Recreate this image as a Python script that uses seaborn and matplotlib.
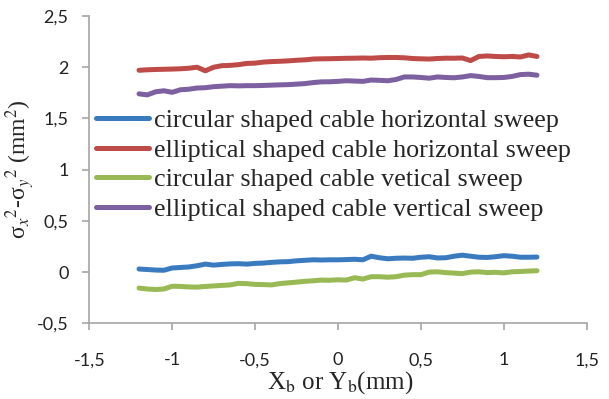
import numpy as np
import pandas as pd
import seaborn as sns
import matplotlib.pyplot as plt
from matplotlib.ticker import FuncFormatter

# beam position (mm)
x = [-1.2, -1.15, -1.1, -1.05, -1.0, -0.95, -0.9, -0.85, -0.8, -0.75,
     -0.7, -0.65, -0.6, -0.55, -0.5, -0.45, -0.4, -0.35, -0.3, -0.25,
     -0.2, -0.15, -0.1, -0.05, 0.0, 0.05, 0.1, 0.15, 0.2, 0.25,
     0.3, 0.35, 0.4, 0.45, 0.5, 0.55, 0.6, 0.65, 0.7, 0.75,
     0.8, 0.85, 0.9, 0.95, 1.0, 1.05, 1.1, 1.15, 1.2]

circ_h = [0.03, 0.025, 0.02, 0.018, 0.04, 0.045, 0.05, 0.062, 0.078, 0.068,
          0.075, 0.08, 0.082, 0.078, 0.085, 0.088, 0.095, 0.10, 0.102, 0.11,
          0.115, 0.12, 0.118, 0.12, 0.12, 0.122, 0.125, 0.12, 0.155, 0.14,
          0.13, 0.135, 0.137, 0.135, 0.145, 0.15, 0.138, 0.14, 0.155, 0.165,
          0.155, 0.145, 0.143, 0.15, 0.16, 0.155, 0.145, 0.145, 0.147]

ell_h = [1.97, 1.975, 1.978, 1.98, 1.982, 1.985, 1.99, 2.0, 1.965, 2.0,
         2.015, 2.018, 2.025, 2.037, 2.04, 2.05, 2.055, 2.058, 2.062, 2.068,
         2.072, 2.08, 2.082, 2.083, 2.085, 2.087, 2.088, 2.09, 2.088, 2.093,
         2.095, 2.095, 2.092, 2.085, 2.082, 2.08, 2.085, 2.088, 2.088, 2.09,
         2.065, 2.105, 2.11, 2.105, 2.102, 2.105, 2.10, 2.12, 2.105]

circ_v = [-0.156, -0.165, -0.17, -0.165, -0.138, -0.14, -0.145, -0.147, -0.14, -0.135,
          -0.13, -0.125, -0.11, -0.113, -0.12, -0.122, -0.125, -0.112, -0.105, -0.098,
          -0.09, -0.085, -0.078, -0.08, -0.075, -0.078, -0.055, -0.068, -0.045, -0.045,
          -0.05, -0.045, -0.03, -0.025, -0.025, 0.0, 0.003, -0.005, -0.01, -0.015,
          0.0, 0.003, -0.005, -0.002, -0.008, 0.003, 0.006, 0.01, 0.013]

ell_v = [1.74, 1.73, 1.76, 1.77, 1.755, 1.78, 1.785, 1.797, 1.80, 1.81,
         1.815, 1.82, 1.818, 1.82, 1.82, 1.822, 1.825, 1.828, 1.83, 1.835,
         1.84, 1.85, 1.857, 1.858, 1.862, 1.868, 1.865, 1.862, 1.875, 1.872,
         1.868, 1.88, 1.905, 1.905, 1.90, 1.893, 1.905, 1.90, 1.897, 1.905,
         1.918, 1.91, 1.898, 1.898, 1.90, 1.91, 1.928, 1.932, 1.922]

labels = ['circular shaped cable horizontal sweep',
          'elliptical shaped cable horizontal sweep',
          'circular shaped cable vetical sweep',
          'elliptical shaped cable vertical sweep']
colors = ['#3A7BC0', '#BE4B48', '#98B954', '#7D60A0']

sns.set_style('ticks')
plt.rcParams['font.family'] = ['Lato', 'DejaVu Sans']
plt.rcParams['mathtext.fontset'] = 'stix'

fig = plt.figure(figsize=(6.09, 3.99), dpi=100)
ax = fig.add_axes([0.1466, 0.1897, 0.8168, 0.7702])

for name, y, c in zip(labels, [circ_h, ell_h, circ_v, ell_v], colors):
    df = pd.DataFrame({'x': x, 'y': y})
    sns.lineplot(data=df, x='x', y='y', color=c, lw=3.6, label=name,
                 ax=ax, solid_capstyle='round')

ax.set_xlim(-1.5, 1.5)
ax.set_ylim(-0.5, 2.5)
ax.set_xticks([-1.5, -1, -0.5, 0, 0.5, 1, 1.5])
ax.set_yticks([-0.5, 0, 0.5, 1, 1.5, 2, 2.5])
comma = FuncFormatter(lambda v, p: ('%g' % v).replace('.', ','))
ax.xaxis.set_major_formatter(comma)
ax.yaxis.set_major_formatter(comma)

sns.despine(ax=ax)
for s in ['left', 'bottom']:
    ax.spines[s].set_color('#a6a6a6')
    ax.spines[s].set_linewidth(1.2)
ax.tick_params(colors='#a6a6a6', labelcolor='#222222', length=5, width=1.2,
               labelsize=13)
ax.tick_params(axis='x', pad=16)
ax.tick_params(axis='y', pad=10)

serif = ['Liberation Serif', 'DejaVu Serif']
ax.set_xlabel(r'X$_\mathrm{b}$ or Y$_\mathrm{b}$(mm)', family=serif,
              fontsize=18)
ax.xaxis.set_label_coords(0.505, -0.148)
ax.set_ylabel(r'σ$_x{}^2$-σ$_y{}^2$ (mm$^2$)', family=serif,
              fontsize=17, labelpad=0)

ax.legend(loc='center left', bbox_to_anchor=(0.013, 0.515), frameon=False,
          prop={'family': serif, 'size': 18.8}, handlelength=2.05,
          handletextpad=0.2, labelspacing=0.24, borderaxespad=0, borderpad=0)

fig.savefig('out.png', dpi=100)
